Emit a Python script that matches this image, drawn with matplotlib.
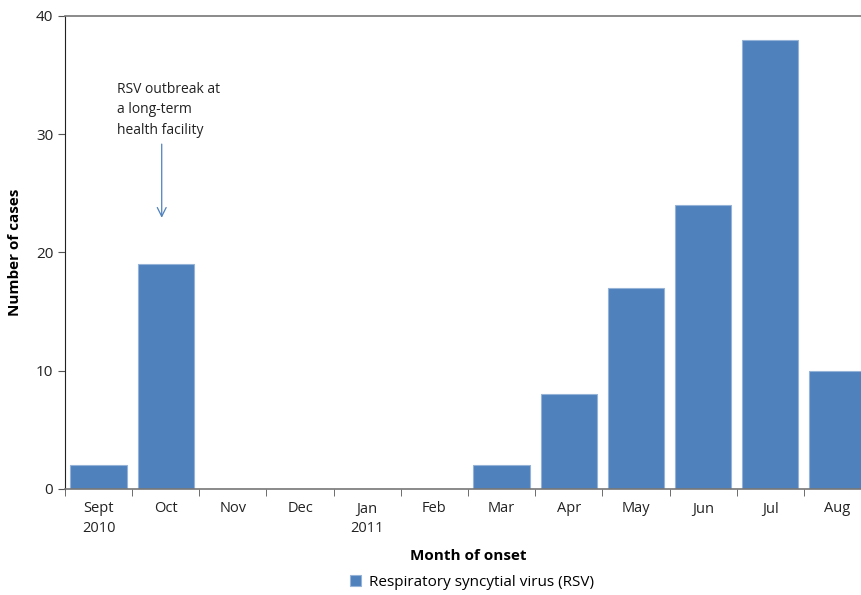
import matplotlib.pyplot as plt
import numpy as np

months = ["Sept\n2010", "Oct", "Nov", "Dec", "Jan\n2011", "Feb",
          "Mar", "Apr", "May", "Jun", "Jul", "Aug"]
cases = [2, 19, 0, 0, 0, 0, 2, 8, 17, 24, 38, 10]

plt.rcParams["font.family"] = ["Open Sans", "DejaVu Sans"]

fig = plt.figure(figsize=(8.61, 5.95), dpi=100)
# axes run past the right edge so the last bar is cut off, as in the original
ax = fig.add_axes([65 / 861, 1 - 489 / 595, 806 / 861, 473 / 595])

x = np.arange(len(months))
ax.bar(x, cases, width=0.84, color="#4F81BD", edgecolor="#95B3D7",
       linewidth=0.8, label="Respiratory syncytial virus (RSV)", zorder=2)

ax.set_xlim(-0.5, len(months) - 0.5)
ax.set_ylim(0, 40)
ax.set_yticks([0, 10, 20, 30, 40])
ax.set_xticks(x)
ax.set_xticklabels(months, fontsize=10.5, color="#222222", linespacing=1.45)
ax.set_xticks(np.arange(-0.5, len(months)), minor=True)
ax.tick_params(axis="x", which="major", length=0, pad=9)
ax.tick_params(axis="x", which="minor", length=5, direction="out", color="#555555")
ax.tick_params(axis="y", length=5, direction="out", color="#555555",
               labelsize=11, labelcolor="#222222")

ax.spines["right"].set_visible(False)
ax.spines["top"].set_color("#777777")
ax.spines["top"].set_linewidth(1.2)
ax.spines["left"].set_color("#222222")
ax.spines["bottom"].set_color("#777777")
ax.spines["bottom"].set_linewidth(1.2)

ax.set_xlabel("Month of onset", fontsize=11, fontweight="bold", labelpad=9)
ax.set_ylabel("Number of cases", fontsize=11, fontweight="bold", labelpad=10)

ax.annotate("", xy=(0.94, 22.7), xytext=(0.94, 29.4),
            arrowprops=dict(arrowstyle="->", color="#4F81BD", lw=0.9,
                            mutation_scale=16))
ax.text(0.28, 34.45, "RSV outbreak at\na long-term\nhealth facility",
        fontsize=10, color="#222222", va="top", ha="left", linespacing=1.5)

fig.legend(loc="lower center", bbox_to_anchor=(0.548, -0.014), frameon=False,
           fontsize=11, handlelength=0.75, handleheight=0.75, handletextpad=0.5)

fig.savefig("out.png", dpi=100)
